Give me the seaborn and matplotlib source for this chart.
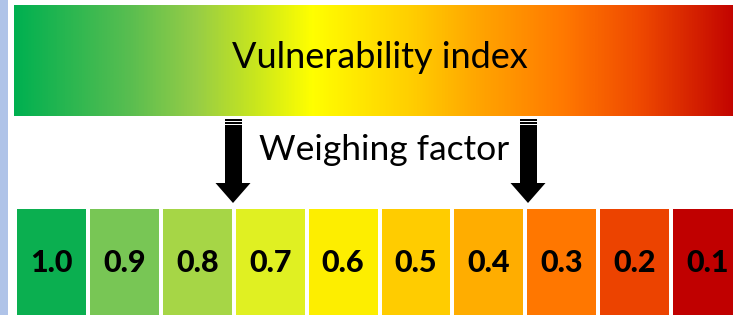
import numpy as np
import matplotlib
matplotlib.use("Agg")
import matplotlib.pyplot as plt
from matplotlib.colors import ListedColormap, LinearSegmentedColormap, to_rgb
from matplotlib.patches import Rectangle, Polygon
import seaborn as sns

# ---- data ----
weights = [1.0, 0.9, 0.8, 0.7, 0.6, 0.5, 0.4, 0.3, 0.2, 0.1]
cell_colors = ["#0BAF50", "#78C655", "#A6D646", "#E0F022", "#FDEE00",
               "#FFCC00", "#FFAD00", "#FF7700", "#EC4300", "#C00000"]
top_label = "Vulnerability index"
mid_label = "Weighing factor"
arrow_positions = [233, 528]  # pixel x of the two arrows

# gradient stops for the vulnerability index bar
grad_pos = [0.0, 0.16, 0.25, 0.33, 0.41, 0.55, 0.64, 0.76, 0.86, 1.0]
grad_colors = ["#00B050", "#5ABE50", "#96CD46", "#C8E61E", "#FFFF00",
               "#FFCD00", "#FFA500", "#FF7800", "#F04B00", "#C00000"]

sns.set_theme(style="white")
plt.rcParams["font.family"] = ["Lato", "DejaVu Sans"]

W, H = 733, 315
fig = plt.figure(figsize=(W / 100, H / 100), dpi=100)
fig.patch.set_facecolor("white")

# background / overlay axes in pixel coordinates
ax = fig.add_axes([0, 0, 1, 1])
ax.set_xlim(0, W)
ax.set_ylim(H, 0)
ax.axis("off")

# photo strip at the left edge
ax.add_patch(Rectangle((0, 0), 8, H, facecolor="#AFC3E8", edgecolor="none"))

# gradient bar
cmap_grad = LinearSegmentedColormap.from_list(
    "vuln", list(zip(grad_pos, [to_rgb(c) for c in grad_colors])))
grad = np.linspace(0, 1, 512).reshape(1, -1)
ax.imshow(grad, cmap=cmap_grad, aspect="auto", extent=[14, 740, 116, 5],
          interpolation="bilinear", zorder=1)
ax.text(380, 57, top_label, ha="center", va="center", fontsize=26,
        color="black", zorder=3)

# middle label
ax.text(384, 150, mid_label, ha="center", va="center", fontsize=25.5,
        color="black", zorder=3)

# arrows
for xa in arrow_positions:
    sw = 17
    ax.add_patch(Rectangle((xa - sw / 2, 119), sw, 1.6, facecolor="black",
                           edgecolor="none", zorder=3))
    ax.add_patch(Rectangle((xa - sw / 2, 122.2), sw, 1.6, facecolor="black",
                           edgecolor="none", zorder=3))
    ax.add_patch(Rectangle((xa - sw / 2, 125), sw, 59, facecolor="black",
                           edgecolor="none", zorder=3))
    ax.add_patch(Polygon([(xa - 17.5, 183), (xa + 17.5, 183), (xa, 203)],
                         closed=True, facecolor="black", edgecolor="none",
                         zorder=3))

# weighing-factor cells as a heatmap
hax = fig.add_axes([15 / W, -3 / H, 729 / W, 111 / H])
cmap_cells = ListedColormap(cell_colors[::-1])
sns.heatmap(np.array([weights]), ax=hax, cmap=cmap_cells, vmin=0.05, vmax=1.05,
            annot=True, fmt=".1f", cbar=False, linewidths=1.6, linecolor="white",
            xticklabels=False, yticklabels=False,
            annot_kws={"fontsize": 22, "fontweight": "black", "color": "black",
                       "family": ["Lato", "DejaVu Sans"]})

fig.savefig("out.png", dpi=100)
